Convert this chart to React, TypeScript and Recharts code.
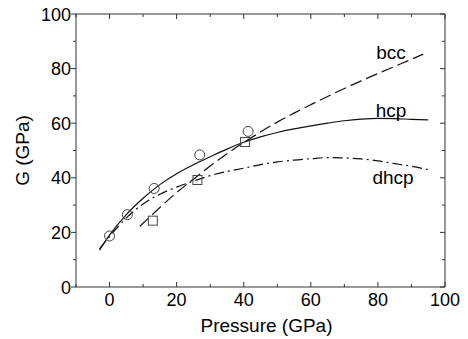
import React from 'react';
import { ComposedChart, Line, Scatter, XAxis, YAxis, ReferenceDot } from 'recharts';

// theory curves
const hcpP = [-3, 0, 5, 10, 15, 20, 25, 30, 35, 40, 45, 50, 55, 60, 65, 70, 75, 80, 85, 90, 95];
const hcpG = [13.5, 19, 26.5, 32.5, 37.5, 41.5, 44.8, 47.7, 50.5, 53, 55, 56.6, 57.9, 59, 60, 60.9, 61.5, 61.8, 61.7, 61.4, 61.2];

const dhcpP = [-3, 0, 5, 10, 15, 20, 25, 30, 35, 40, 45, 50, 55, 60, 65, 70, 75, 80, 85, 90, 95];
const dhcpG = [14, 18.5, 25.3, 30.4, 34, 36.6, 38.8, 40.8, 42.3, 43.5, 44.8, 45.8, 46.5, 47, 47.4, 47.3, 46.9, 46.2, 45.2, 44.2, 43];

const bccP = [9, 15, 20, 25, 30, 35, 40, 45, 50, 55, 60, 65, 70, 75, 80, 85, 90, 93.5];
const bccG = [22.2, 29.1, 34.6, 39.5, 44.3, 48.8, 52.9, 56.8, 60.4, 63.7, 66.8, 69.8, 72.7, 75.5, 78.2, 80.8, 83.4, 85.3];

// experimental points
const circP = [0, 5.3, 13.3, 26.9, 41.3];
const circG = [18.7, 26.5, 36.1, 48.4, 57];
const sqP = [12.9, 26.2, 40.4];
const sqG = [24.3, 39.2, 53.1];

const xTicks = [-10, 0, 10, 20, 30, 40, 50, 60, 70, 80, 90, 100];
const yTicks = [0, 10, 20, 30, 40, 50, 60, 70, 80, 90, 100];

const zip = (xs: number[], ys: number[]) => xs.map((x, i) => ({ x, y: ys[i] }));

const hcp = zip(hcpP, hcpG);
const dhcp = zip(dhcpP, dhcpG);
const bcc = zip(bccP, bccG);
const circles = zip(circP, circG);
const squares = zip(sqP, sqG);

const AX = '#333';
const FONT = 'Liberation Sans, Arial, sans-serif';

const BottomTick = (props: any) => {
  const { x, y, payload } = props;
  const major = payload.value % 20 === 0;
  return (
    <g>
      <line x1={x} x2={x} y1={y} y2={y - (major ? 5 : 3)} stroke={AX} />
      {major && (
        <text x={x} y={y + 19} textAnchor="middle" fontSize={18} fill="#000" fontFamily={FONT}>
          {payload.value}
        </text>
      )}
    </g>
  );
};

const TopTick = (props: any) => {
  const { x, y, payload } = props;
  const major = payload.value % 20 === 0;
  return <line x1={x} x2={x} y1={y} y2={y + (major ? 5 : 3)} stroke={AX} />;
};

const LeftTick = (props: any) => {
  const { x, y, payload } = props;
  const major = payload.value % 20 === 0;
  return (
    <g>
      <line x1={x} x2={x - (major ? 5 : 3)} y1={y} y2={y} stroke={AX} />
      {major && (
        <text x={x - 5} y={y + 6.5} textAnchor="end" fontSize={18} fill="#000" fontFamily={FONT}>
          {payload.value}
        </text>
      )}
    </g>
  );
};

const RightTick = (props: any) => {
  const { x, y, payload } = props;
  const major = payload.value % 20 === 0;
  return <line x1={x} x2={x - (major ? 5 : 3)} y1={y} y2={y} stroke={AX} />;
};

const Circle = (props: any) => (
  <circle cx={props.cx} cy={props.cy} r={5} fill="none" stroke="#444" strokeWidth={1} />
);
const Square = (props: any) => (
  <rect x={props.cx - 4.5} y={props.cy - 4.5} width={9} height={9} fill="none" stroke="#444" strokeWidth={1} />
);

const curveLabel = (value: string) => ({ value, position: 'center' as const, fontSize: 19, fill: '#000', fontFamily: FONT });

export default function App() {
  return (
    <div style={{ position: 'absolute', left: 0, top: 0, background: '#fff' }}>
      <ComposedChart width={468} height={339} margin={{ top: 13, right: 22, left: 0, bottom: 0 }}>
        <XAxis
          xAxisId="b"
          type="number"
          dataKey="x"
          domain={[-10, 100]}
          ticks={xTicks}
          interval={0}
          height={52}
          tickSize={0}
          tickMargin={0}
          tickLine={false}
          tick={<BottomTick />}
          stroke={AX}
          allowDataOverflow
          label={{ value: 'Pressure (GPa)', position: 'center', dx: 6, dy: 12, fontSize: 19, fill: '#000', fontFamily: FONT }}
        />
        <XAxis
          xAxisId="t"
          orientation="top"
          type="number"
          dataKey="x"
          domain={[-10, 100]}
          ticks={xTicks}
          interval={0}
          height={1}
          tickSize={0}
          tickMargin={0}
          tickLine={false}
          tick={<TopTick />}
          stroke={AX}
          allowDataOverflow
        />
        <YAxis
          yAxisId="l"
          type="number"
          dataKey="y"
          domain={[0, 100]}
          ticks={yTicks}
          interval={0}
          width={76}
          tickSize={0}
          tickMargin={0}
          tickLine={false}
          tick={<LeftTick />}
          stroke={AX}
          allowDataOverflow
          label={{ value: 'G (GPa)', angle: -90, position: 'center', dx: -16, fontSize: 19, fill: '#000', fontFamily: FONT }}
        />
        <YAxis
          yAxisId="r"
          orientation="right"
          type="number"
          dataKey="y"
          domain={[0, 100]}
          ticks={yTicks}
          interval={0}
          width={1}
          tickSize={0}
          tickMargin={0}
          tickLine={false}
          tick={<RightTick />}
          stroke={AX}
          allowDataOverflow
        />
        <Line xAxisId="b" yAxisId="l" data={hcp} dataKey="y" type="monotone" stroke="#111" strokeWidth={1.2} dot={false} isAnimationActive={false} />
        <Line xAxisId="b" yAxisId="l" data={dhcp} dataKey="y" type="monotone" stroke="#111" strokeWidth={1.2} strokeDasharray="10 4 2 4" dot={false} isAnimationActive={false} />
        <Line xAxisId="b" yAxisId="l" data={bcc} dataKey="y" type="monotone" stroke="#111" strokeWidth={1.2} strokeDasharray="12 5" dot={false} isAnimationActive={false} />
        <Scatter xAxisId="b" yAxisId="l" data={circles} dataKey="y" shape={<Circle />} isAnimationActive={false} />
        <Scatter xAxisId="b" yAxisId="l" data={squares} dataKey="y" shape={<Square />} isAnimationActive={false} />
        <ReferenceDot xAxisId="b" yAxisId="l" x={83.9} y={86.1} r={0} stroke="none" label={curveLabel('bcc')} />
        <ReferenceDot xAxisId="b" yAxisId="l" x={83.9} y={64.8} r={0} stroke="none" label={curveLabel('hcp')} />
        <ReferenceDot xAxisId="b" yAxisId="l" x={84.5} y={40.3} r={0} stroke="none" label={curveLabel('dhcp')} />
      </ComposedChart>
    </div>
  );
}
